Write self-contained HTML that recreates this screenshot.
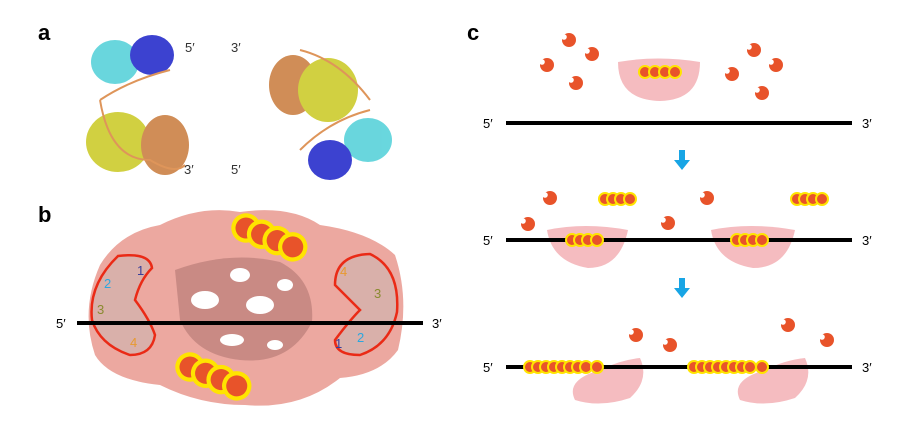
<!DOCTYPE html><html><head><style>body{margin:0;background:#fff}svg{display:block}text{font-family:"Liberation Sans",sans-serif}</style></head><body>
<svg width="910" height="436" viewBox="0 0 910 436" xmlns="http://www.w3.org/2000/svg">
<defs>
<g id="m"><circle r="7" fill="#e8532a"/><circle cx="-5" cy="-3" r="2.8" fill="#fff"/></g>
<g id="c"><circle r="6" fill="#e8532a" stroke="#ffe400" stroke-width="2"/></g>
</defs>
<g font-weight="bold" font-size="22"><text x="38" y="40">a</text><text x="38" y="222">b</text><text x="467" y="40">c</text></g>
<!-- panel a -->
<g opacity="0.85">
<ellipse cx="115" cy="62" rx="24" ry="22" fill="#4fd0d8"/>
<ellipse cx="152" cy="55" rx="22" ry="20" fill="#1b22c8"/>
<ellipse cx="118" cy="142" rx="32" ry="30" fill="#c9c820"/>
<ellipse cx="165" cy="145" rx="24" ry="30" fill="#c87a3a"/>
<path d="M100 100 Q130 80 170 70 M100 100 Q110 160 150 160 Q175 175 185 165" stroke="#d9833e" stroke-width="2" fill="none"/>
<ellipse cx="293" cy="85" rx="24" ry="30" fill="#c87a3a"/>
<ellipse cx="328" cy="90" rx="30" ry="32" fill="#c9c820"/>
<ellipse cx="368" cy="140" rx="24" ry="22" fill="#4fd0d8"/>
<ellipse cx="330" cy="160" rx="22" ry="20" fill="#1b22c8"/>
<path d="M300 50 Q340 60 370 100 M300 150 Q330 120 370 110" stroke="#d9833e" stroke-width="2" fill="none"/>
</g>
<g font-size="13" fill="#333"><text x="185" y="52">5′</text><text x="184" y="174">3′</text><text x="231" y="52">3′</text><text x="231" y="174">5′</text></g>
<!-- panel b -->
<path d="M100 265 Q120 232 160 225 Q200 205 240 212 Q290 205 320 225 Q370 232 395 255 Q410 300 398 350 Q380 375 340 378 Q300 410 245 405 Q200 405 160 385 Q110 380 95 355 Q80 310 100 265Z" fill="#eca8a0"/>
<path d="M175 270 Q230 250 280 262 Q315 280 312 322 Q290 365 240 360 Q195 355 180 320Z" fill="#c98a84"/>
<ellipse cx="205" cy="300" rx="14" ry="9" fill="#fff"/><ellipse cx="260" cy="305" rx="14" ry="9" fill="#fff"/><ellipse cx="240" cy="275" rx="10" ry="7" fill="#fff"/><ellipse cx="232" cy="340" rx="12" ry="6" fill="#fff"/><ellipse cx="285" cy="285" rx="8" ry="6" fill="#fff"/><ellipse cx="275" cy="345" rx="8" ry="5" fill="#fff"/>
<path d="M118 256 Q150 252 152 268 Q140 280 135 300 Q150 320 155 335 Q152 355 130 355 Q100 345 92 320 Q88 285 118 256Z" fill="#d9b0aa" stroke="#ea2a16" stroke-width="2.5"/>
<path d="M370 254 Q400 268 397 312 Q390 345 360 355 Q335 355 335 340 Q350 320 360 310 Q345 295 335 285 Q335 255 370 254Z" fill="#d9b0aa" stroke="#ea2a16" stroke-width="2.5"/>
<g font-size="13"><text x="137" y="275" fill="#3a3f9a">1</text><text x="104" y="288" fill="#2aa7e0">2</text><text x="97" y="314" fill="#8a8a30">3</text><text x="130" y="347" fill="#e89a30">4</text>
<text x="340" y="276" fill="#e89a30">4</text><text x="374" y="298" fill="#8a8a30">3</text><text x="335" y="348" fill="#3a3f9a">1</text><text x="357" y="342" fill="#2aa7e0">2</text></g>
<line x1="77" y1="323" x2="423" y2="323" stroke="#000" stroke-width="4"/>
<text x="56" y="328" font-size="13">5′</text><text x="432" y="328" font-size="13">3′</text>
<g transform="translate(246,228) rotate(22)"><g transform="scale(2.1)"><use href="#c" x="0"/><use href="#c" x="8"/><use href="#c" x="16"/><use href="#c" x="24"/></g></g>
<g transform="translate(190,367) rotate(22)"><g transform="scale(2.1)"><use href="#c" x="0"/><use href="#c" x="8"/><use href="#c" x="16"/><use href="#c" x="24"/></g></g>
<!-- panel c -->
<path d="M618 62 Q658 55 700 62 Q700 100 660 101 Q618 100 618 62Z" fill="#f5bcc0"/>
<g><use href="#c" x="645" y="72"/><use href="#c" x="655" y="72"/><use href="#c" x="665" y="72"/><use href="#c" x="675" y="72"/></g>
<g><use href="#m" x="569" y="40"/><use href="#m" x="592" y="54"/><use href="#m" x="547" y="65"/><use href="#m" x="576" y="83"/><use href="#m" x="754" y="50"/><use href="#m" x="776" y="65"/><use href="#m" x="732" y="74"/><use href="#m" x="762" y="93"/></g>
<line x1="506" y1="123" x2="852" y2="123" stroke="#000" stroke-width="4"/>
<g font-size="13"><text x="483" y="128">5′</text><text x="862" y="128">3′</text><text x="483" y="245">5′</text><text x="862" y="245">3′</text><text x="483" y="372">5′</text><text x="862" y="372">3′</text></g>
<path d="M679 150 h6 v10 h5 l-8 10 -8 -10 h5z" fill="#18a5e5"/>
<path d="M679 278 h6 v10 h5 l-8 10 -8 -10 h5z" fill="#18a5e5"/>
<path d="M547 230 Q585 222 628 230 Q620 268 588 268 Q552 262 547 230Z" fill="#f5bcc0"/>
<path d="M711 230 Q750 222 795 230 Q787 268 753 268 Q716 262 711 230Z" fill="#f5bcc0"/>
<line x1="506" y1="240" x2="852" y2="240" stroke="#000" stroke-width="4"/>
<g><use href="#c" x="572" y="240"/><use href="#c" x="580" y="240"/><use href="#c" x="588" y="240"/><use href="#c" x="597" y="240"/>
<use href="#c" x="737" y="240"/><use href="#c" x="745" y="240"/><use href="#c" x="753" y="240"/><use href="#c" x="762" y="240"/>
<use href="#c" x="605" y="199"/><use href="#c" x="613" y="199"/><use href="#c" x="621" y="199"/><use href="#c" x="630" y="199"/>
<use href="#c" x="797" y="199"/><use href="#c" x="805" y="199"/><use href="#c" x="813" y="199"/><use href="#c" x="822" y="199"/></g>
<g><use href="#m" x="550" y="198"/><use href="#m" x="528" y="224"/><use href="#m" x="707" y="198"/><use href="#m" x="668" y="223"/></g>
<path d="M640 358 Q650 380 630 398 Q600 408 575 400 Q565 380 600 370 Q620 360 640 358Z" fill="#f5bcc0"/>
<path d="M805 358 Q815 380 795 398 Q765 408 740 400 Q730 380 765 370 Q785 360 805 358Z" fill="#f5bcc0"/>
<line x1="506" y1="367" x2="852" y2="367" stroke="#000" stroke-width="4"/>
<g><use href="#c" x="530" y="367"/><use href="#c" x="538" y="367"/><use href="#c" x="546" y="367"/><use href="#c" x="554" y="367"/><use href="#c" x="562" y="367"/><use href="#c" x="570" y="367"/><use href="#c" x="578" y="367"/><use href="#c" x="586" y="367"/><use href="#c" x="597" y="367"/>
<use href="#c" x="694" y="367"/><use href="#c" x="702" y="367"/><use href="#c" x="710" y="367"/><use href="#c" x="718" y="367"/><use href="#c" x="726" y="367"/><use href="#c" x="734" y="367"/><use href="#c" x="742" y="367"/><use href="#c" x="750" y="367"/><use href="#c" x="762" y="367"/></g>
<g><use href="#m" x="636" y="335"/><use href="#m" x="670" y="345"/><use href="#m" x="788" y="325"/><use href="#m" x="827" y="340"/></g>
</svg></body></html>
